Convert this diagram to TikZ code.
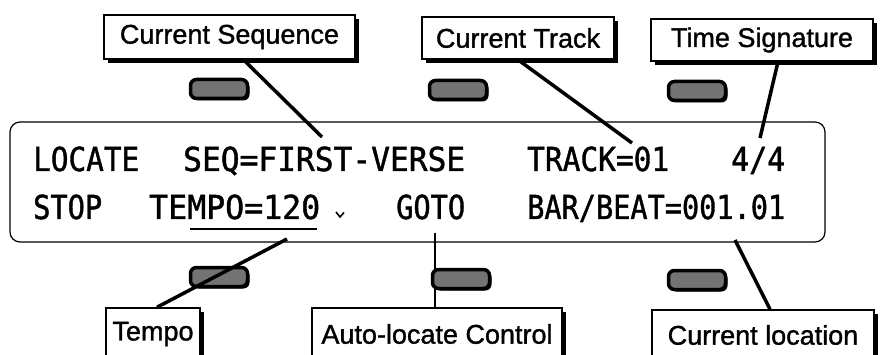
\documentclass[tikz,border=0pt]{standalone}
\usepackage{fontspec}
\setmainfont{Liberation Sans}
\newfontfamily\lblfont[FakeBold=1.2]{Liberation Sans}
\newfontfamily\lcdfont[FakeBold=1.3]{DejaVu Sans Mono}
\usetikzlibrary{shadows,patterns}
\newcommand\lcdtxt[2]{\resizebox{#1}{\height}{\lcdfont\fontsize{33}{36}\selectfont #2}}
\begin{document}
\begin{tikzpicture}[x=1pt,y=-1pt,
  lbl/.style={draw=black, line width=1.5pt, fill=white, inner sep=0pt,
    font=\lblfont\fontsize{27}{30}\selectfont,
    drop shadow={shadow xshift=4pt, shadow yshift=-4pt, fill=black, opacity=1}},
  btn/.style={draw=black, line width=3.5pt, fill=black!55, rounded corners=6pt,
    minimum width=57pt, minimum height=19pt, inner sep=0pt,
    drop shadow={shadow xshift=2pt, shadow yshift=-2pt, fill=black, opacity=1}},
  conn/.style={draw=black, line width=3.5pt},
  lcd/.style={anchor=base west, inner sep=0pt}]
\useasboundingbox (0,0) rectangle (880,355);
\clip (0,0) rectangle (880,355);
\fill[white] (0,0) rectangle (880,355);

% display
\node[draw=black, line width=1.2pt, rounded corners=10pt, minimum width=815pt,
      minimum height=120pt, inner sep=0pt] (disp) at (417.5,182) {};

% display text, line 1
\node[lcd] (l1a) at (33,171) {\lcdtxt{106pt}{LOCATE}};
\node[lcd] (l1b) at (183,171) {\lcdtxt{282pt}{SEQ=FIRST-VERSE}};
\node[lcd] (l1c) at (527,171) {\lcdtxt{142pt}{TRACK=01}};
\node[lcd] (l1d) at (731,171) {\lcdtxt{54pt}{4/4}};
% display text, line 2
\node[lcd] (l2a) at (33,219) {\lcdtxt{69pt}{STOP}};
\node[lcd] (l2b) at (149,219) {\lcdtxt{171pt}{TEMPO=120}};
\node[lcd] (l2c) at (396,219) {\lcdtxt{69pt}{GOTO}};
\node[lcd] (l2d) at (527,219) {\lcdtxt{258pt}{BAR/BEAT=001.01}};
\draw[line width=2.5pt] (190,229) -- (317,229);
\draw[line width=1.6pt] (336,212) -- (340,217) -- (344,212.5);

% buttons
\node[btn] (b1) at (219,89) {};
\node[btn] (b2) at (458,90) {};
\node[btn] (b3) at (697,91) {};
\node[btn] (b4) at (219,277) {};
\node[btn] (b6) at (697,280) {};

% label boxes
\node[lbl, minimum width=251pt, minimum height=44pt] (cs) at (229.5,37) {Current Sequence};
\node[lbl, minimum width=192pt, minimum height=42pt] (ct) at (518,38) {Current Track};
\node[lbl, minimum width=222pt, minimum height=42pt] (ts) at (762,40) {Time Signature};
\node[lbl, minimum width=94pt, minimum height=52pt] (tp) at (153,334) {Tempo};
\node[lbl, minimum width=250pt, minimum height=52pt] (alc) at (437,334) {Auto-locate Control};
\node[lbl, minimum width=222pt, minimum height=50pt] (cl) at (763,335) {Current location};

% connector end points on the display
\coordinate (pseq) at (322,137);
\coordinate (ptrk) at (632,143);
\coordinate (psig) at (760,138);
\coordinate (ptmp) at (287,239);
\coordinate (pgo) at (435,233);
\coordinate (ploc) at (735,240);

% connectors
\draw[conn] ([xshift=14pt]cs.south) -- (pseq);
\draw[conn] (ct.south) -- (ptrk);
\draw[conn] ([xshift=16pt]ts.south) -- (psig);
\draw[conn, line width=2.5pt] (pgo) -- (alc.north -| pgo);
\node[btn] (b5) at (461,279) {};
\draw[conn] (ptmp) -- ([xshift=4pt]tp.north);
\draw[conn] (ploc) -- ([xshift=7pt]cl.north);
\end{tikzpicture}
\end{document}
